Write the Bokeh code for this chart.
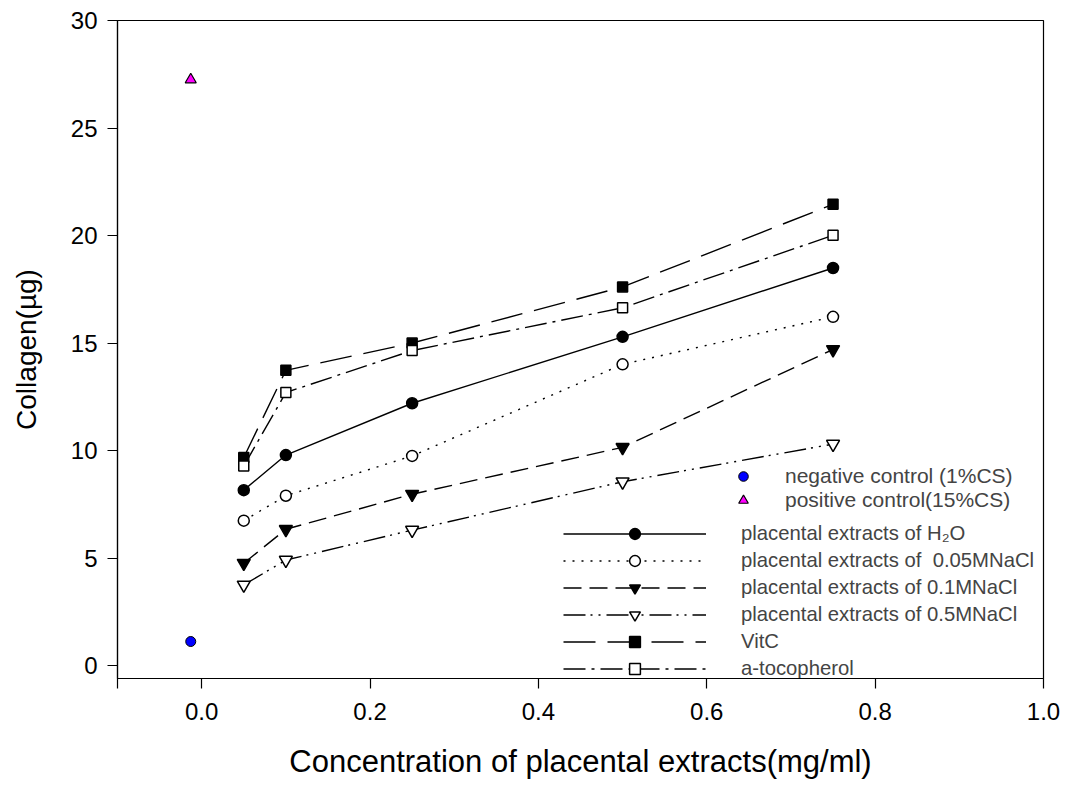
from bokeh.plotting import figure
from bokeh.models import Legend, LegendItem, FixedTicker
from bokeh.embed import file_html
from bokeh.resources import INLINE

# ---- data ----
conc = [0.05, 0.1, 0.25, 0.5, 0.75]
h2o = [8.16, 9.79, 12.2, 15.29, 18.49]
nacl_005 = [6.74, 7.90, 9.75, 14.01, 16.22]
nacl_01 = [4.76, 6.34, 7.97, 10.15, 14.70]
nacl_05 = [3.75, 4.91, 6.30, 8.55, 10.30]
vitc = [9.68, 13.73, 15.0, 17.61, 21.45]
toco = [9.28, 12.70, 14.65, 16.64, 20.01]
control_x = [-0.013]
neg_y = [1.12]
pos_y = [27.25]

x_ticks = [-0.1, 0.0, 0.2, 0.4, 0.6, 0.8, 1.0]
x_tick_labels = ["", "0.0", "0.2", "0.4", "0.6", "0.8", "1.0"]
y_ticks = [0, 5, 10, 15, 20, 25, 30]
y_tick_labels = ["0", "5", "10", "15", "20", "25", "30"]

FONT = "Liberation Sans"

p = figure(width=1067, height=789, x_range=(-0.1, 1.0), y_range=(-0.6, 30),
           output_backend="svg", toolbar_location=None,
           min_border_left=117, min_border_right=24, min_border_top=20,
           min_border_bottom=111)
p.title.visible = False
p.xgrid.visible = False
p.ygrid.visible = False
p.outline_line_color = "black"
p.outline_line_width = 1.2
p.background_fill_color = "white"
p.border_fill_color = "white"

for ax in (p.xaxis[0], p.yaxis[0]):
    ax.axis_line_color = "black"
    ax.axis_line_width = 1.2
    ax.major_tick_in = 0
    ax.major_tick_out = 10
    ax.major_tick_line_width = 1.2
    ax.minor_tick_line_color = None
    ax.major_label_text_font = FONT
    ax.major_label_text_font_size = "24px"
    ax.major_label_text_color = "black"
    ax.axis_label_text_font = FONT
    ax.axis_label_text_font_style = "normal"
    ax.axis_label_text_color = "black"

p.xaxis[0].ticker = FixedTicker(ticks=x_ticks)
p.xaxis[0].major_label_overrides = {t: l for t, l in zip(x_ticks, x_tick_labels)}
p.xaxis[0].axis_label = "Concentration of placental extracts(mg/ml)"
p.xaxis[0].axis_label_text_font_size = "31px"
p.xaxis[0].major_label_standoff = 14
p.xaxis[0].axis_label_standoff = 21

p.yaxis[0].ticker = FixedTicker(ticks=y_ticks)
p.yaxis[0].major_label_overrides = {t: l for t, l in zip(y_ticks, y_tick_labels)}
p.yaxis[0].axis_label = "Collagen(\u00b5g)"
p.yaxis[0].axis_label_text_font_size = "28px"
p.yaxis[0].major_label_standoff = 10
p.yaxis[0].axis_label_standoff = 26

LW = 1.4

def series(y, dash, marker, fill, size):
    ln = p.line(conc, y, line_color="black", line_width=LW, line_dash=dash)
    sc = p.scatter(conc, y, marker=marker, size=size, fill_color=fill,
                   line_color="black", line_width=1.5)
    return [ln, sc]

r_h2o = series(h2o, "solid", "circle", "black", 11)
r_005 = series(nacl_005, "2 7", "circle", "white", 11)
r_01 = series(nacl_01, "18 8", "inverted_triangle", "black", 13)
r_05 = series(nacl_05, "22 5 2 6 2 6", "inverted_triangle", "white", 13)
r_vitc = series(vitc, "32 12", "square", "black", 10)
r_toco = series(toco, "22 6 3 6", "square", "white", 10)

r_neg = p.scatter(control_x, neg_y, marker="circle", size=10,
                  fill_color="#0000ff", line_color="black", line_width=1)
r_pos = p.scatter(control_x, pos_y, marker="triangle", size=11,
                  fill_color="#ff00ff", line_color="black", line_width=1.2)

leg_ctrl = Legend(items=[
    LegendItem(label="negative control (1%CS)", renderers=[r_neg]),
    LegendItem(label="positive control(15%CS)", renderers=[r_pos]),
], location=(614, 166), glyph_width=24, glyph_height=24, label_height=24,
    spacing=0, padding=0, margin=0, label_standoff=30,
    border_line_color=None, background_fill_alpha=0,
    label_text_font=FONT, label_text_font_size="21px")

leg_series = Legend(items=[
    LegendItem(label="placental extracts of H\u2082O", renderers=r_h2o),
    LegendItem(label="placental extracts of  0.05MNaCl", renderers=r_005),
    LegendItem(label="placental extracts of 0.1MNaCl", renderers=r_01),
    LegendItem(label="placental extracts of 0.5MNaCl", renderers=r_05),
    LegendItem(label="VitC", renderers=r_vitc),
    LegendItem(label="a-tocopherol", renderers=r_toco),
], location=(446, -4), glyph_width=143, glyph_height=27, label_height=27,
    spacing=0, padding=0, margin=0, label_standoff=35,
    border_line_color=None, background_fill_alpha=0,
    label_text_font=FONT, label_text_font_size="20.3px")

p.add_layout(leg_ctrl)
p.add_layout(leg_series)

open("out.html", "w").write(file_html(p, INLINE))
